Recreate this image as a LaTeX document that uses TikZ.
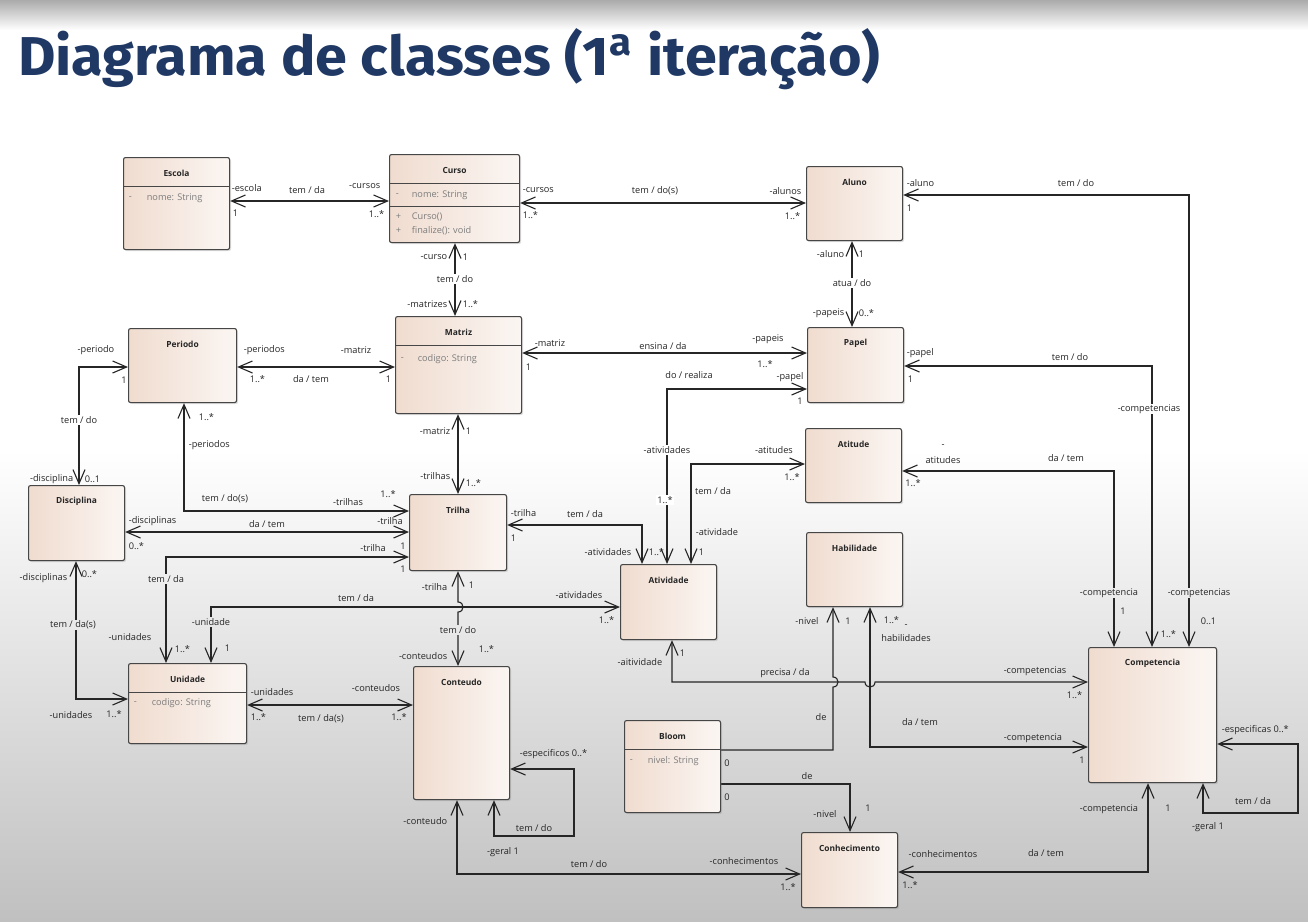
\documentclass[tikz,border=0pt]{standalone}
\usepackage{fontspec}
\usepackage{graphicx}
\usetikzlibrary{arrows.meta,shadows}
\setmainfont{Open Sans}
\newfontfamily\titlefont{Fira Sans}

\definecolor{titlec}{RGB}{31,56,100}
\definecolor{linec}{RGB}{38,38,38}
\definecolor{boxline}{RGB}{70,70,70}
\definecolor{boxl}{RGB}{240,220,207}
\definecolor{boxr}{RGB}{251,246,243}
\definecolor{attrc}{RGB}{125,125,125}
\definecolor{bgbottom}{RGB}{192,192,192}
\definecolor{bgA}{gray}{0.932}
\definecolor{bgB}{gray}{0.925}
\definecolor{bgC}{gray}{0.908}

\pgfdeclarelayer{slide}
\pgfdeclarelayer{lines}
\pgfsetlayers{slide,lines,main}

\newcounter{lbn}
% label node: [options]{x,y}{text}
\newcommand\lb[3][]{\stepcounter{lbn}\node[lbl,#1] (lb-\arabic{lbn}) at (#2) {#3};}
% class box: name, left, top, width, height, title
\newcommand\cls[6]{%
  \node[clsbox, anchor=north west, minimum width=#4pt, minimum height=#5pt] (#1) at (#2,#3) {};
  \node[clstitle] (#1-t) at ([yshift=-16.5pt]#1.north) {#6};}

\tikzset{
  clsbox/.style={draw=boxline, line width=1.1pt, rounded corners=2pt,
    left color=boxl, right color=boxr, inner sep=0pt,
    drop shadow={shadow xshift=1.5pt, shadow yshift=-1.5pt, opacity=0.25}},
  clstitle/.style={font=\bfseries\fontsize{8.4}{10}\selectfont, inner sep=0pt, text=black!85},
  lbl/.style={font=\fontsize{9.2}{11}\selectfont, inner sep=0.6pt, text=black!85},
  onl/.style={fill=#1, inner sep=1pt},
  onl/.default=white,
  attr/.style={lbl, text=attrc, anchor=west},
  sepline/.style={draw=boxline, line width=1pt},
  assoc/.style={draw=linec, line width=1.1pt, >={Straight Barb[length=14pt,width=12pt]}, <->},
  assocone/.style={draw=linec, line width=1.1pt, >={Straight Barb[length=14pt,width=12pt]}, ->},
}

\begin{document}
\begin{tikzpicture}[x=1pt,y=-1pt]
\useasboundingbox (0,0) rectangle (1308,921);
% slide background
\begin{pgfonlayer}{slide}
\fill[white] (0,0) rectangle (1308,921);
\shade[top color=gray!66, bottom color=white] (0,0) rectangle (1308,30);
\shade[top color=white, bottom color=bgbottom] (0,450) rectangle (1308,921);
\end{pgfonlayer}

% heading
\node[anchor=base west, inner sep=0pt, text=titlec] (title) at (18,75)
  {\resizebox{862pt}{47pt}{\titlefont\bfseries Diagrama de classes (1\textsuperscript{a} iteração)}};

% classes
\cls{escola}{123}{157}{106}{92}{Escola}
\cls{curso}{389}{154}{130}{88}{Curso}
\cls{aluno}{806}{166}{96}{74}{Aluno}
\cls{periodo}{128}{328}{108}{74}{Periodo}
\cls{matriz}{395}{316}{126}{97}{Matriz}
\cls{papel}{807}{327}{96}{75}{Papel}
\cls{atitude}{805}{428}{96}{74}{Atitude}
\cls{disciplina}{28}{485}{96}{75}{Disciplina}
\cls{trilha}{409}{494}{97}{76}{Trilha}
\cls{atividade}{620}{564}{96}{75}{Atividade}
\cls{habilidade}{806}{532}{96}{74}{Habilidade}
\cls{unidade}{128}{663}{118}{80}{Unidade}
\cls{conteudo}{413}{666}{96}{133}{Conteudo}
\cls{bloom}{624}{720}{96}{92}{Bloom}
\cls{conhecimento}{801}{832}{96}{75}{Conhecimento}
\cls{competencia}{1088}{647}{128}{135}{Competencia}

% compartments and members
\draw[sepline] (escola.west |- 0,186) -- (escola.east |- 0,186);
\node[attr] (escola-v) at (128,198) {-};
\node[attr] (escola-a) at (146,198) {nome: String};
\draw[sepline] (curso.west |- 0,183) -- (curso.east |- 0,183);
\draw[sepline] (curso.west |- 0,206) -- (curso.east |- 0,206);
\node[attr] (curso-v) at (395,195) {-};
\node[attr] (curso-a) at (411,195) {nome: String};
\node[attr] (curso-v1) at (395,217) {+};
\node[attr] (curso-m1) at (411,217) {Curso()};
\node[attr] (curso-v2) at (395,231) {+};
\node[attr] (curso-m2) at (411,231) {finalize(): void};
\draw[sepline] (matriz.west |- 0,345) -- (matriz.east |- 0,345);
\node[attr] (matriz-v) at (400,359) {-};
\node[attr] (matriz-a) at (417,359) {codigo: String};
\draw[sepline] (unidade.west |- 0,692) -- (unidade.east |- 0,692);
\node[attr] (unidade-v) at (133,703) {-};
\node[attr] (unidade-a) at (151,703) {codigo: String};
\draw[sepline] (bloom.west |- 0,749) -- (bloom.east |- 0,749);
\node[attr] (bloom-v) at (629,761) {-};
\node[attr] (bloom-a) at (647,761) {nivel: String};

% associations
\begin{pgfonlayer}{lines}
\draw[assoc] (escola.east |- 0,201) -- (curso.west |- 0,201);
\draw[assoc] (curso.east |- 0,203) -- (aluno.west |- 0,203);
\draw[assoc] (curso.south -| 455,0) -- (matriz.north -| 455,0);
\draw[assoc] (aluno.south -| 852,0) -- (papel.north -| 852,0);
\draw[assoc] (aluno.east |- 0,195) -- (1189,195) -- (competencia.north -| 1189,0);
\draw[assoc] (periodo.east |- 0,367) -- (matriz.west |- 0,367);
\draw[assoc] (matriz.east |- 0,353) -- (papel.west |- 0,353);
\draw[assoc] (papel.east |- 0,366) -- (1152,366) -- (competencia.north -| 1152,0);
\draw[assoc] (periodo.west |- 0,367) -- (79,367) -- (disciplina.north -| 79,0);
\draw[assoc] (periodo.south -| 184,0) -- (184,511) -- (trilha.west |- 0,511);
\draw[assoc] (matriz.south -| 458,0) -- (trilha.north -| 458,0);
\draw[assoc] (papel.west |- 0,389) -- (667,389) -- (atividade.north -| 667,0);
\draw[assoc] (atitude.west |- 0,464) -- (691,464) -- (atividade.north -| 691,0);
\draw[assoc] (atitude.east |- 0,471) -- (1114,471) -- (competencia.north -| 1114,0);
\draw[assoc] (disciplina.east |- 0,532) -- (trilha.west |- 0,532);
\draw[assoc] (trilha.west |- 0,557) -- (166,557) -- (unidade.north -| 166,0);
\draw[assoc] (trilha.east |- 0,525) -- (642,525) -- (atividade.north -| 642,0);
\draw[assoc] (trilha.south -| 458,0) -- (458,602) .. controls (464.7,602) and (464.7,612) .. (458,612) -- (conteudo.north -| 458,0);
\draw[assoc] (disciplina.south -| 76,0) -- (76,699) -- (unidade.west |- 0,699);
\draw[assoc] (unidade.north -| 211,0) -- (211,607) -- (atividade.west |- 0,607);
\draw[assoc] (unidade.east |- 0,705) -- (conteudo.west |- 0,705);
\draw[assoc] (conteudo.east |- 0,769) -- (574,769) -- (574,836) -- (494,836) -- (conteudo.south -| 494,0);
\draw[assoc] (conteudo.south -| 457,0) -- (457,874) -- (conhecimento.west |- 0,874);
\draw[assoc] (atividade.south -| 672,0) -- (672,682) -- (865,682) .. controls (865,688.7) and (875,688.7) .. (875,682) -- (competencia.west |- 0,682);
\draw[assocone] (bloom.east |- 0,750) -- (833,750) -- (833,687) .. controls (839.7,687) and (839.7,677) .. (833,677) -- (habilidade.south -| 833,0);
\draw[assoc] (habilidade.south -| 870,0) -- (870,747) -- (competencia.west |- 0,747);
\draw[assocone] (bloom.east |- 0,784) -- (850,784) -- (conhecimento.north -| 850,0);
\draw[assoc] (conhecimento.east |- 0,872) -- (1148,872) -- (competencia.south -| 1148,0);
\draw[assoc] (competencia.east |- 0,744) -- (1298,744) -- (1298,813) -- (1203,813) -- (competencia.south -| 1203,0);
\end{pgfonlayer}

% Escola - Curso
\lb[anchor=west]{231,188}{-escola}
\lb[anchor=west]{232,213}{1}
\lb{307,190}{tem / da}
\lb[anchor=east]{381,186}{-cursos}
\lb[anchor=east]{385,214}{1..*}
% Curso - Aluno
\lb[anchor=west]{522,190}{-cursos}
\lb[anchor=west]{522,215}{1..*}
\lb{655,191}{tem / do(s)}
\lb[anchor=east]{802,191}{-alunos}
\lb[anchor=east]{801,216}{1..*}
% Curso - Matriz
\lb[anchor=east]{448,257}{-curso}
\lb[anchor=west]{462,257}{1}
\lb[onl]{455,279}{tem / do}
\lb[anchor=east]{448,304}{-matrizes}
\lb[anchor=west]{462,304}{1..*}
% Aluno - Papel
\lb[anchor=east]{845,254}{-aluno}
\lb[anchor=west]{858,254}{1}
\lb[onl]{852,283}{atua / do}
\lb[anchor=east]{845,313}{-papeis}
\lb[anchor=west]{858,313}{0..*}
% Aluno - Competencia
\lb[anchor=west]{906,183}{-aluno}
\lb[anchor=west]{906,208}{1}
\lb{1076,183}{tem / do}
\lb[onl=bgB]{1199,593}{-competencias}
\lb[anchor=west]{1200,621}{0..1}
% Periodo - Matriz
\lb[anchor=west]{243,350}{-periodos}
\lb[anchor=west]{249,379}{1..*}
\lb{311,379}{da / tem}
\lb{356,350}{-matriz}
\lb[anchor=east]{392,379}{1}
% Matriz - Papel
\lb[anchor=west]{534,343}{-matriz}
\lb[anchor=west]{525,367}{1}
\lb{663,346}{ensina / da}
\lb{768,339}{-papeis}
\lb{765,364}{1..*}
% Papel - Competencia
\lb[anchor=west]{906,353}{-papel}
\lb[anchor=west]{907,379}{1}
\lb{1070,357}{tem / do}
\lb[onl]{1149,409}{-competencias}
\lb[anchor=west]{1160,634}{1..*}
% Periodo - Disciplina
\lb{96,350}{-periodo}
\lb{124,380}{1}
\lb[onl]{79,420}{tem / do}
\lb[anchor=east]{74,479}{-disciplina}
\lb[anchor=west]{84,479}{0..1}
% Periodo - Trilha
\lb[anchor=west]{198,417}{1..*}
\lb[anchor=west]{188,445}{-periodos}
\lb{225,499}{tem / do(s)}
\lb{348,502}{-trilhas}
\lb{388,494}{1..*}
% Matriz - Trilha
\lb[anchor=east]{451,431}{-matriz}
\lb[anchor=west]{465,431}{1}
\lb[anchor=east]{451,476}{-trilhas}
\lb[anchor=west]{465,483}{1..*}
% Papel - Atividade
\lb{689,375}{do / realiza}
\lb{790,377}{-papel}
\lb{800,401}{1}
\lb[onl]{667,450}{-atividades}
\lb[onl]{665,500}{1..*}
% Atitude - Atividade
\lb{774,450}{-atitudes}
\lb{792,477}{1..*}
\lb{713,491}{tem / da}
\lb[anchor=west]{695,532}{-atividade}
\lb[anchor=west]{698,552}{1}
% Atitude - Competencia
\lb{943,446}{-}
\lb{943,460}{atitudes}
\lb{913,483}{1..*}
\lb{1066,458}{da / tem}
\lb[onl=bgB]{1109,593}{-competencia}
\lb{1123,611}{1}
% Disciplina - Trilha
\lb[anchor=west]{128,521}{-disciplinas}
\lb[anchor=west]{128,546}{0..*}
\lb{267,524}{da / tem}
\lb{390,521}{-trilha}
\lb{403,546}{1}
% Trilha - Unidade
\lb{373,548}{-trilha}
\lb{403,569}{1}
\lb[onl=bgA]{166,579}{tem / da}
\lb{130,637}{-unidades}
\lb[anchor=west]{174,649}{1..*}
% Trilha - Atividade
\lb[anchor=west]{510,513}{-trilha}
\lb[anchor=west]{510,538}{1}
\lb{585,514}{tem / da}
\lb[anchor=east]{632,552}{-atividades}
\lb[anchor=west]{648,552}{1..*}
% Trilha - Conteudo
\lb[anchor=east]{448,587}{-trilha}
\lb[anchor=west]{468,585}{1}
\lb[onl=bgC]{458,630}{tem / do}
\lb[anchor=east]{448,656}{-conteudos}
\lb[anchor=west]{478,649}{1..*}
% Disciplina - Unidade
\lb[anchor=east]{68,578}{-disciplinas}
\lb[anchor=west]{81,574}{0..*}
\lb[onl=bgC]{73,625}{tem / da(s)}
\lb{71,715}{-unidades}
\lb{114,714}{1..*}
% Unidade - Atividade
\lb{356,598}{tem / da}
\lb[onl=bgC]{211,622}{-unidade}
\lb[anchor=west]{224,648}{1}
\lb{579,595}{-atividades}
\lb[anchor=east]{615,620}{1..*}
% Unidade - Conteudo
\lb[anchor=west]{250,692}{-unidades}
\lb[anchor=west]{250,717}{1..*}
\lb{321,719}{tem / da(s)}
\lb{376,688}{-conteudos}
\lb{399,717}{1..*}
% Conteudo (self)
\lb[anchor=west]{519,754}{-especificos 0..*}
\lb{534,828}{tem / do}
\lb{503,852}{-geral 1}
% Conteudo - Conhecimento
\lb[anchor=east]{448,821}{-conteudo}
\lb{589,864}{tem / do}
\lb{744,861}{-conhecimentos}
\lb{788,887}{1..*}
% Atividade - Competencia
\lb[anchor=east]{663,662}{-aitividade}
\lb[anchor=west]{679,653}{1}
\lb{785,673}{precisa / da}
\lb{1035,671}{-competencias}
\lb[anchor=east]{1083,695}{1..*}
% Habilidade ends
\lb{807,621}{-nivel}
\lb{848,621}{1}
\lb[anchor=west]{883,620}{1..*}
\lb{906,626}{-}
\lb{906,638}{habilidades}
% Bloom - Habilidade
\lb{821,717}{de}
\lb{727,763}{0}
% Habilidade - Competencia
\lb{920,722}{da / tem}
\lb{1033,738}{-competencia}
\lb{1082,760}{1}
% Bloom - Conhecimento
\lb{807,776}{de}
\lb{727,797}{0}
\lb{825,814}{-nivel}
\lb{868,808}{1}
% Conhecimento - Competencia
\lb{943,854}{-conhecimentos}
\lb{910,885}{1..*}
\lb{1046,853}{da / tem}
\lb{1109,809}{-competencia}
\lb{1168,808}{1}
% Competencia (self)
\lb[anchor=west]{1221,730}{-especificas 0..*}
\lb{1253,801}{tem / da}
\lb{1208,827}{-geral 1}
\end{tikzpicture}
\end{document}
